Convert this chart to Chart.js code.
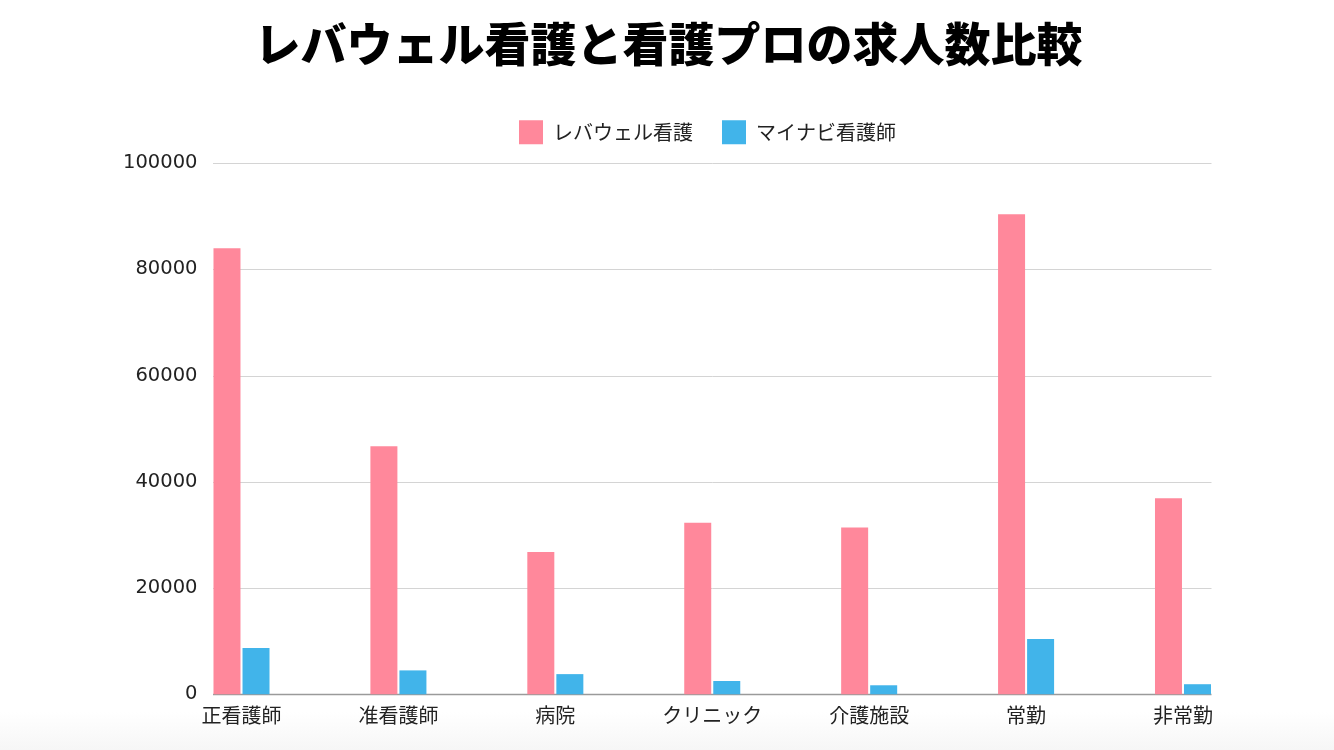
<!DOCTYPE html>
<html>
<head>
<meta charset="utf-8">
<script src="https://cdn.jsdelivr.net/npm/chart.js@4"></script>
<style>
  html, body { margin: 0; padding: 0; background: #fff; }
  #wrap { position: relative; width: 1334px; height: 750px; background: linear-gradient(to bottom, #fff 0px, #fff 712px, #f6f6f6 750px); }
  canvas { position: absolute; left: 0; top: 0; }
</style>
</head>
<body>
<div id="wrap"><canvas id="myChart" width="1334" height="750"></canvas></div>
<script>
const categories = ['正看護師', '准看護師', '病院', 'クリニック', '介護施設', '常勤', '非常勤'];
const levwellValues = [84000, 46700, 26800, 32300, 31400, 90400, 36900];
const mynaviValues = [8700, 4500, 3800, 2500, 1700, 10400, 1900];
const seriesNames = ['レバウェル看護', 'マイナビ看護師'];
const yTicks = [0, 20000, 40000, 60000, 80000, 100000];

const font = '"Noto Sans CJK JP", "Noto Sans", sans-serif';
const pink = 'rgb(255, 136, 155)';
const blue = 'rgb(65, 180, 234)';

// horizontal grid lines reach a little past the outer bars
const gridPlugin = {
    id: 'wideGrid',
    beforeDatasetsDraw(chart) {
        const ctx = chart.ctx;
        const area = chart.chartArea;
        const y = chart.scales.y;
        const ext = 28.5;
        ctx.save();
        y.ticks.forEach(t => {
            const py = Math.round(y.getPixelForValue(t.value)) + 0.5;
            ctx.strokeStyle = t.value === 0 ? '#9a9a9a' : '#d4d4d4';
            ctx.lineWidth = t.value === 0 ? 1.5 : 1;
            ctx.beginPath();
            ctx.moveTo(area.left - ext, py);
            ctx.lineTo(area.right + ext, py);
            ctx.stroke();
        });
        ctx.restore();
    }
};

// title and legend sit off-centre in the original, nudge them
const shiftPlugin = {
    id: 'shiftHeader',
    afterLayout(chart) {
        const move = (box, dx, dy) => {
            box.left += dx; box.right += dx;
            box.top += dy; box.bottom += dy;
        };
        move(chart.titleBlock, 77, -9);
        move(chart.legend, 116, -9);
    }
};

const data = {
    labels: categories,
    datasets: [{
        label: seriesNames[0],
        data: levwellValues,
        backgroundColor: pink,
        clip: false
    }, {
        label: seriesNames[1],
        data: mynaviValues,
        backgroundColor: blue,
        clip: false
    }]
};

new Chart(document.getElementById('myChart'), {
    type: 'bar',
    data: data,
    options: {
        responsive: false,
        animation: false,
        devicePixelRatio: 1,
        categoryPercentage: 0.37,
        barPercentage: 0.93,
        layout: { padding: { left: 0, right: 151, top: 17, bottom: 21 } },
        plugins: {
            title: {
                display: true,
                text: 'レバウェル看護と看護プロの求人数比較',
                color: '#000',
                font: { family: font, size: 46, weight: '900' },
                padding: { top: 8, bottom: 20 }
            },
            legend: {
                labels: {
                    color: '#222',
                    font: { family: font, size: 20 },
                    boxWidth: 24,
                    boxHeight: 24,
                    padding: 29
                }
            },
            tooltip: { enabled: false }
        },
        scales: {
            x: {
                offset: false,
                grid: { display: false },
                border: { display: false },
                ticks: { color: '#222', font: { family: font, size: 20 }, padding: 1, maxRotation: 0 }
            },
            y: {
                min: 0,
                max: 100000,
                afterFit: s => { s.width = 241.5; },
                afterBuildTicks: s => { s.ticks = yTicks.map(v => ({ value: v })); },
                grid: { display: false, drawTicks: false },
                border: { display: false },
                ticks: {
                    color: '#222',
                    font: { family: '"DejaVu Sans", sans-serif', size: 19.5 },
                    padding: 44,
                    callback: v => String(v)
                }
            }
        }
    },
    plugins: [gridPlugin, shiftPlugin]
});
</script>
</body>
</html>
